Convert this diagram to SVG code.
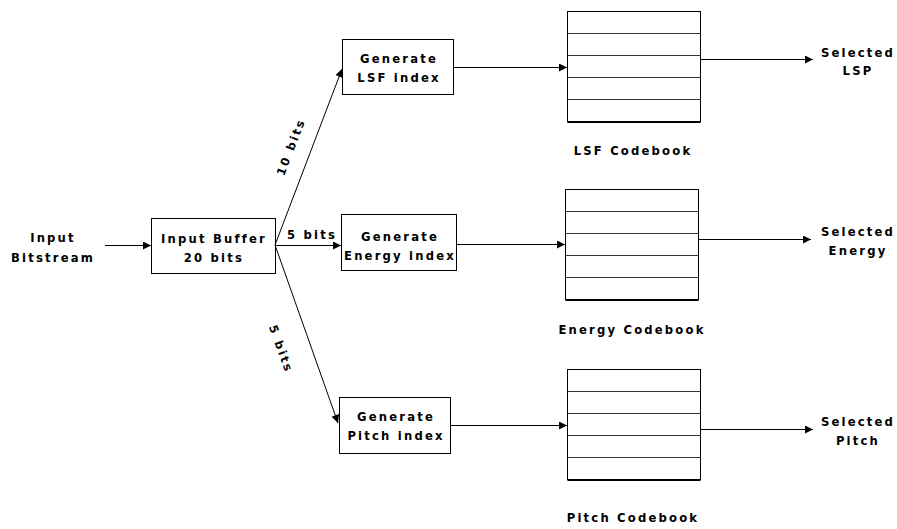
<svg xmlns="http://www.w3.org/2000/svg" width="897" height="529" viewBox="0 0 897 529">
<defs>
<marker id="arr" viewBox="0 0 10 10" refX="10" refY="5" markerWidth="10" markerHeight="8" markerUnits="userSpaceOnUse" orient="auto">
<path d="M0,0 L10,5 L0,10 z" fill="#000"/>
</marker>
</defs>
<style>
text{font-family:"DejaVu Sans","Verdana",sans-serif;font-weight:bold;font-size:11.6px;letter-spacing:2.2px;fill:#000;text-anchor:middle}
.box{fill:#fff;stroke:#000;stroke-width:1}
.tbl{fill:#fff;stroke:#000;stroke-width:1}
.row{stroke:#333;stroke-width:1}
.bot{stroke:#000;stroke-width:2}
.con{fill:none;stroke:#000;stroke-width:1;marker-end:url(#arr)}
</style>
<rect width="897" height="529" fill="#fff"/>

<g id="input">
<text x="53" y="242">Input</text>
<text x="53" y="262">Bitstream</text>
</g>

<g id="buffer">
<rect class="box" x="151.5" y="218.5" width="124" height="55"/>
<text x="214" y="243">Input Buffer</text>
<text x="214" y="262">20 bits</text>
</g>

<g id="gen-lsf">
<rect class="box" x="342.5" y="39.5" width="111" height="55"/>
<text x="399" y="63">Generate</text>
<text x="399" y="82">LSF index</text>
</g>

<g id="gen-energy">
<rect class="box" x="341.5" y="214.5" width="115" height="56"/>
<text x="400" y="241">Generate</text>
<text x="400" y="260">Energy index</text>
</g>

<g id="gen-pitch">
<rect class="box" x="339.5" y="397.5" width="111" height="56"/>
<text x="396" y="421">Generate</text>
<text x="396" y="440">Pitch index</text>
</g>

<g id="lsf-codebook">
<rect class="tbl" x="567.5" y="11.5" width="133" height="110"/>
<line class="row" x1="567.5" y1="33.5" x2="700.5" y2="33.5"/>
<line class="row" x1="567.5" y1="55.5" x2="700.5" y2="55.5"/>
<line class="row" x1="567.5" y1="77.5" x2="700.5" y2="77.5"/>
<line class="row" x1="567.5" y1="99.5" x2="700.5" y2="99.5"/>
<line class="bot" x1="567.5" y1="122" x2="700.5" y2="122"/>
<text x="633" y="155">LSF Codebook</text>
</g>

<g id="energy-codebook">
<rect class="tbl" x="565.5" y="189.5" width="133" height="110"/>
<line class="row" x1="565.5" y1="211.5" x2="698.5" y2="211.5"/>
<line class="row" x1="565.5" y1="233.5" x2="698.5" y2="233.5"/>
<line class="row" x1="565.5" y1="255.5" x2="698.5" y2="255.5"/>
<line class="row" x1="565.5" y1="277.5" x2="698.5" y2="277.5"/>
<line class="bot" x1="565.5" y1="300" x2="698.5" y2="300"/>
<text x="632" y="334">Energy Codebook</text>
</g>

<g id="pitch-codebook">
<rect class="tbl" x="567.5" y="369.5" width="133" height="110"/>
<line class="row" x1="567.5" y1="391.5" x2="700.5" y2="391.5"/>
<line class="row" x1="567.5" y1="413.5" x2="700.5" y2="413.5"/>
<line class="row" x1="567.5" y1="435.5" x2="700.5" y2="435.5"/>
<line class="row" x1="567.5" y1="457.5" x2="700.5" y2="457.5"/>
<line class="bot" x1="567.5" y1="480" x2="700.5" y2="480"/>
<text x="633" y="522">Pitch Codebook</text>
</g>

<g id="out-lsp">
<text x="858" y="57">Selected</text>
<text x="858" y="75">LSP</text>
</g>
<g id="out-energy">
<text x="858" y="236">Selected</text>
<text x="858" y="255">Energy</text>
</g>
<g id="out-pitch">
<text x="858" y="426">Selected</text>
<text x="858" y="445">Pitch</text>
</g>

<g id="connectors">
<line class="con" x1="105" y1="245.5" x2="151" y2="245.5"/>
<line class="con" x1="275" y1="245" x2="342" y2="69"/>
<line class="con" x1="275" y1="245.5" x2="341" y2="245.5"/>
<line class="con" x1="275" y1="245" x2="338" y2="423"/>
<line class="con" x1="453" y1="67.5" x2="567" y2="67.5"/>
<line class="con" x1="456" y1="244.5" x2="565" y2="244.5"/>
<line class="con" x1="450" y1="425.5" x2="567" y2="425.5"/>
<line class="con" x1="700" y1="59.5" x2="813" y2="59.5"/>
<line class="con" x1="698" y1="239.5" x2="811" y2="239.5"/>
<line class="con" x1="700" y1="429.5" x2="813" y2="429.5"/>
<text x="312" y="239">5 bits</text>
<text transform="translate(291,147) rotate(-69)" x="0" y="4">10 bits</text>
<text transform="translate(281,349) rotate(70)" x="0" y="4">5 bits</text>
</g>
</svg>
